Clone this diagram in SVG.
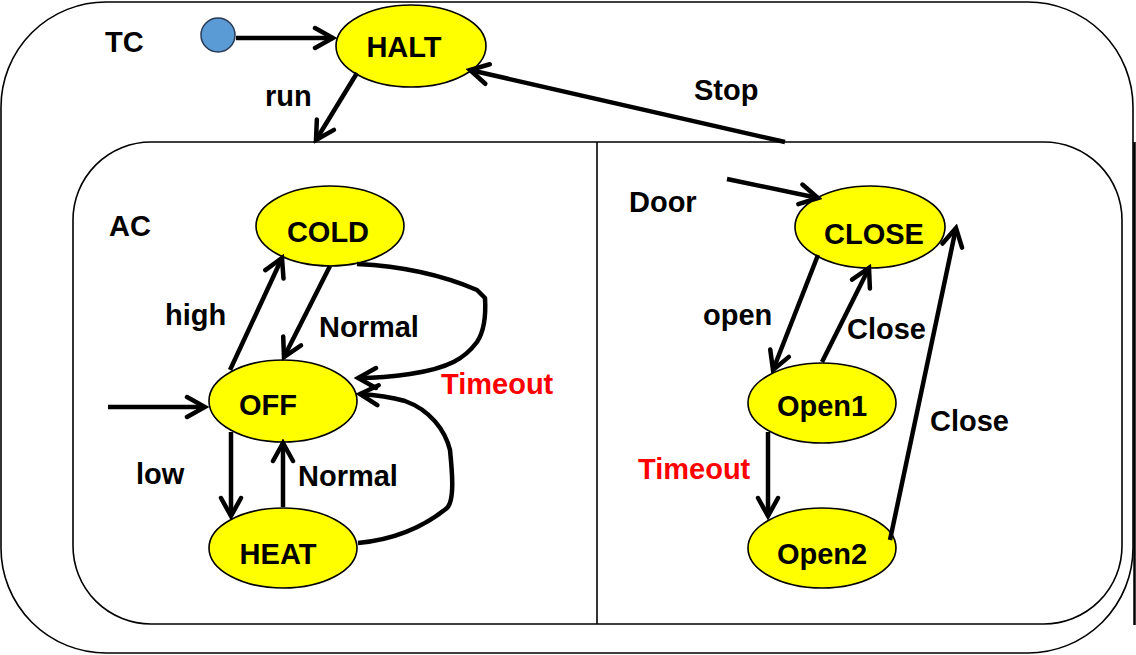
<svg xmlns="http://www.w3.org/2000/svg" width="1136" height="655" viewBox="0 0 1136 655">
<style>
.box{fill:none;stroke:#000;stroke-width:1.6}
.st{fill:#FFFF00;stroke:#000;stroke-width:1.6}
.lbl{font-family:"Liberation Sans",Arial,sans-serif;font-weight:bold;font-size:29px;fill:#000}
.red{fill:#FF0000}
.mid{text-anchor:middle}
.c{fill:none;stroke:#000;stroke-width:4.5;stroke-linejoin:round;stroke-linecap:butt;marker-end:url(#ah)}
</style>
<defs>
<marker id="ah" markerUnits="userSpaceOnUse" viewBox="-22 -13 26 26" refX="0" refY="0" markerWidth="26" markerHeight="26" orient="auto">
<path d="M -18,-10 L 0,0 L -18,10" fill="none" stroke="#000" stroke-width="4.5" stroke-linecap="round" stroke-linejoin="miter"/>
</marker>
</defs>
<rect width="1136" height="655" fill="#fff"/>
<g id="TC">
<rect class="box" x="1" y="2" width="1132" height="651" rx="105" ry="105"/>
<line x1="1134.5" y1="142" x2="1134.5" y2="625" stroke="#000" stroke-width="2.5"/>
<text class="lbl" x="105" y="52">TC</text>
</g>
<g id="inner">
<rect class="box" x="73" y="142" width="1049" height="482" rx="78" ry="78"/>
<line x1="597" y1="142" x2="597" y2="624" stroke="#000" stroke-width="1.6"/>
</g>
<g id="AC"><text class="lbl" x="109" y="236">AC</text></g>
<g id="Door"><text class="lbl" x="629" y="212">Door</text></g>
<g id="init"><circle cx="218" cy="35" r="17" fill="#5B9BD5" stroke="#2A3A55" stroke-width="1.5"/></g>
<g id="HALT"><ellipse class="st" cx="411" cy="46" rx="75" ry="41"/><text class="lbl mid" x="404" y="57">HALT</text></g>
<g id="COLD"><ellipse class="st" cx="330" cy="226" rx="74" ry="40"/><text class="lbl mid" x="328" y="242">COLD</text></g>
<g id="OFF"><ellipse class="st" cx="283" cy="401" rx="74" ry="41"/><text class="lbl mid" x="268" y="415">OFF</text></g>
<g id="HEAT"><ellipse class="st" cx="283" cy="548" rx="74" ry="40"/><text class="lbl mid" x="278" y="564">HEAT</text></g>
<g id="CLOSE"><ellipse class="st" cx="870" cy="227" rx="75" ry="41"/><text class="lbl mid" x="874" y="244">CLOSE</text></g>
<g id="Open1"><ellipse class="st" cx="822" cy="403" rx="74" ry="40"/><text class="lbl mid" x="822" y="416">Open1</text></g>
<g id="Open2"><ellipse class="st" cx="822" cy="548" rx="74" ry="40"/><text class="lbl mid" x="822" y="564">Open2</text></g>
<g id="connectors">
<path class="c" d="M 236,38 L 333,38"/>
<path class="c" d="M 357,73 L 316,140"/>
<path class="c" d="M 785,142 L 470,70"/>
<path class="c" d="M 727,179 L 818,198"/>
<path class="c" d="M 108,407 L 205,407"/>
<path class="c" d="M 230,370 L 282,258"/>
<path class="c" d="M 330,266 L 284,357"/>
<path class="c" d="M 357,264 C 400,266 440,274 477,290 L 485,298 C 486,315 485,330 477,342 C 465,358 450,368 410,374 C 390,377 375,378 358,378"/>
<path class="c" d="M 358,543 C 390,540 420,530 447,508 C 455,500 452,470 450,450 C 445,430 430,410 405,401 C 390,397 375,395 360,394"/>
<path class="c" d="M 231,432 L 231,516"/>
<path class="c" d="M 283,507 L 283,443"/>
<path class="c" d="M 818,255 L 773,370"/>
<path class="c" d="M 822,362 L 869,268"/>
<path class="c" d="M 768,432 L 768,516"/>
<path class="c" d="M 890,540 L 956,228"/>
</g>
<g id="labels">
<text class="lbl" x="265" y="106">run</text>
<text class="lbl" x="694" y="100">Stop</text>
<text class="lbl" x="165" y="325">high</text>
<text class="lbl" x="319" y="337">Normal</text>
<text class="lbl red" x="441" y="394">Timeout</text>
<text class="lbl" x="136" y="484">low</text>
<text class="lbl" x="298" y="486">Normal</text>
<text class="lbl" x="703" y="325">open</text>
<text class="lbl" x="847" y="339">Close</text>
<text class="lbl" x="930" y="431">Close</text>
<text class="lbl red" x="638" y="479">Timeout</text>
</g>
</svg>
